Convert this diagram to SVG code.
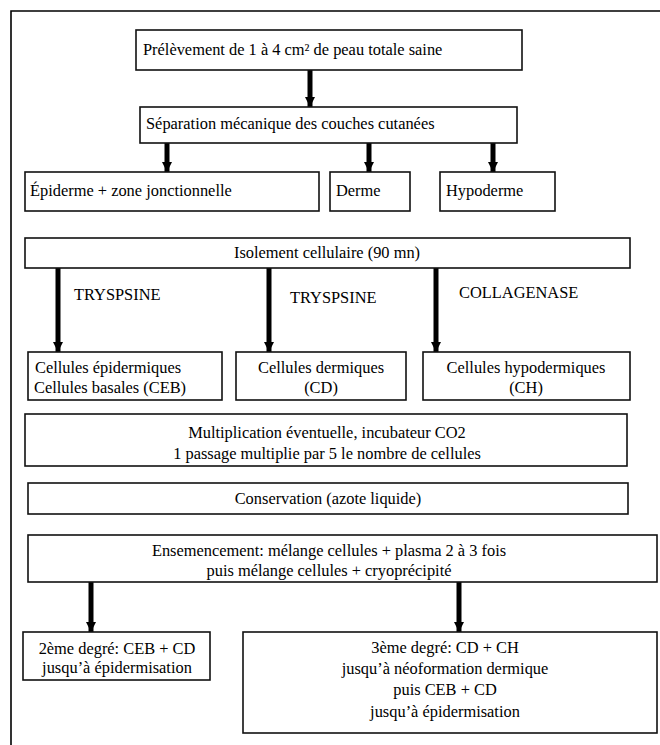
<svg xmlns="http://www.w3.org/2000/svg" width="660" height="745" viewBox="0 0 660 745">
<defs>
<marker id="ah" markerUnits="userSpaceOnUse" markerWidth="12" markerHeight="10" refX="10" refY="5" orient="auto">
<path d="M0,0 L10,5 L0,10 z" fill="#000"/>
</marker>
<style>
.box{fill:#fff;stroke:#111;stroke-width:1.6}
.t{font-family:"Liberation Serif","Times New Roman",serif;font-size:16.4px;fill:#000}
.c{text-anchor:middle}
.ar{stroke:#000;stroke-width:5;fill:none;marker-end:url(#ah)}
.fr{stroke:#000;stroke-width:1.6;fill:none}
</style>
</defs>
<rect width="660" height="745" fill="#fff"/>
<g id="frame">
<path class="fr" d="M11,745 L11,11 L660,11"/>
</g>
<g id="connectors">
<line class="ar" x1="310" y1="70" x2="310" y2="107"/>
<line class="ar" x1="167" y1="143" x2="167" y2="172"/>
<line class="ar" x1="369" y1="143" x2="369" y2="172"/>
<line class="ar" x1="493" y1="143" x2="493" y2="172"/>
<line class="ar" x1="58" y1="268" x2="58" y2="352"/>
<line class="ar" x1="269" y1="268" x2="269" y2="352"/>
<line class="ar" x1="436" y1="268" x2="436" y2="352"/>
<line class="ar" x1="91" y1="582" x2="91" y2="632"/>
<line class="ar" x1="459" y1="582" x2="459" y2="632"/>
<text class="t" x="74" y="300">TRYSPSINE</text>
<text class="t" x="290" y="303">TRYSPSINE</text>
<text class="t" x="459" y="298">COLLAGENASE</text>
</g>
<g id="n1"><rect class="box" x="136" y="30" width="386" height="40"/><text class="t" x="143" y="55">Prélèvement de 1 à 4 cm² de peau totale saine</text></g>
<g id="n2"><rect class="box" x="140" y="107" width="377" height="36"/><text class="t" x="146" y="129">Séparation mécanique des couches cutanées</text></g>
<g id="n3"><rect class="box" x="25" y="172" width="294" height="39"/><text class="t" x="30" y="196">Épiderme + zone jonctionnelle</text></g>
<g id="n4"><rect class="box" x="330" y="172" width="80" height="39"/><text class="t" x="336" y="196">Derme</text></g>
<g id="n5"><rect class="box" x="440" y="172" width="115" height="39"/><text class="t" x="446" y="196">Hypoderme</text></g>
<g id="n6"><rect class="box" x="25" y="238" width="605" height="30"/><text class="t c" x="327" y="258">Isolement cellulaire (90 mn)</text></g>
<g id="n7"><rect class="box" x="28" y="352" width="194" height="48"/><text class="t" x="35" y="373">Cellules épidermiques</text><text class="t" x="34" y="393">Cellules basales (CEB)</text></g>
<g id="n8"><rect class="box" x="236" y="352" width="170" height="48"/><text class="t c" x="321" y="373">Cellules dermiques</text><text class="t c" x="321" y="393">(CD)</text></g>
<g id="n9"><rect class="box" x="423" y="352" width="207" height="48"/><text class="t c" x="526" y="373">Cellules hypodermiques</text><text class="t c" x="526" y="393">(CH)</text></g>
<g id="n10"><rect class="box" x="25" y="414" width="602" height="52"/><text class="t c" x="327" y="438">Multiplication éventuelle, incubateur CO2</text><text class="t c" x="327" y="459">1 passage multiplie par 5 le nombre de cellules</text></g>
<g id="n11"><rect class="box" x="28" y="483" width="600" height="31"/><text class="t c" x="328" y="504">Conservation (azote liquide)</text></g>
<g id="n12"><rect class="box" x="28" y="535" width="629" height="47"/><text class="t c" x="329" y="556">Ensemencement: mélange cellules + plasma 2 à 3 fois</text><text class="t c" x="329" y="576">puis mélange cellules + cryoprécipité</text></g>
<g id="n13"><rect class="box" x="23" y="632" width="187" height="48"/><text class="t c" x="117" y="654">2ème degré: CEB + CD</text><text class="t c" x="117" y="673">jusqu’à épidermisation</text></g>
<g id="n14"><rect class="box" x="243" y="632" width="414" height="101"/><text class="t c" x="445" y="653">3ème degré: CD + CH</text><text class="t c" x="445" y="674">jusqu’à néoformation dermique</text><text class="t c" x="445" y="695">puis CEB + CD</text><text class="t c" x="445" y="717">jusqu’à épidermisation</text></g>
</svg>
